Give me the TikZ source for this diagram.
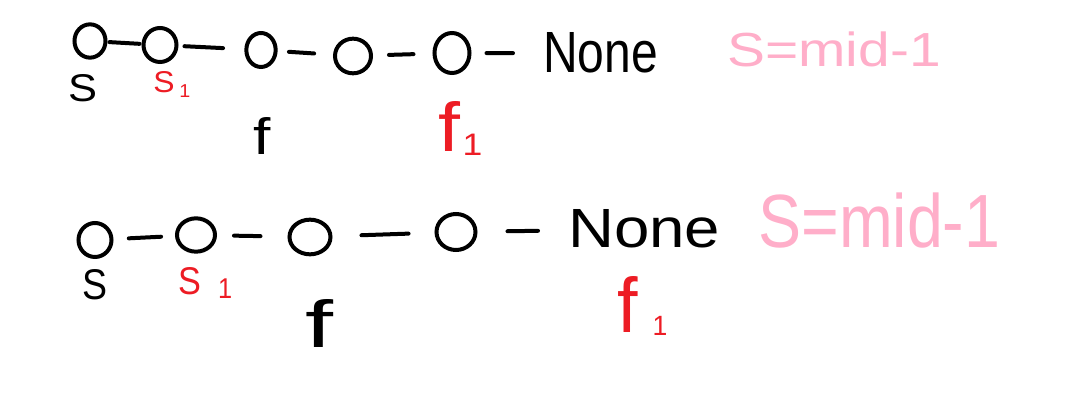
\documentclass[tikz,border=0pt]{standalone}
\usepackage{fontspec}
\setmainfont{Liberation Sans}
\usetikzlibrary{shapes.geometric}
\definecolor{inkred}{RGB}{237,28,36}
\definecolor{inkpink}{RGB}{255,174,201}
\newcommand{\fitxt}[3]{\resizebox{#1}{#2}{#3}}
\begin{document}
\begin{tikzpicture}[x=0.75pt,y=-0.75pt,
  ring/.style={draw, ellipse, line width=3pt, inner sep=0pt},
  link/.style={line width=3pt, line cap=round},
  lbl/.style={inner sep=0pt, anchor=base west}]
\useasboundingbox[fill=white] (0,0) rectangle (1076,420);
% row 1
\node[ring, minimum width=23.25pt, minimum height=25pt] (c1) at (90,41) {};
\node[ring, minimum width=24.75pt, minimum height=25.5pt] (c2) at (160,45) {};
\node[ring, minimum width=22pt, minimum height=25.5pt] (c3) at (261,50) {};
\node[ring, minimum width=27pt, minimum height=26pt] (c4) at (353,56) {};
\node[ring, minimum width=26.25pt, minimum height=30pt] (c5) at (452,53) {};
\node[lbl] (n1) at (543,73) {\fitxt{86pt}{30pt}{None}};
\draw[link, shorten <=1.5pt, shorten >=1.5pt] (c1) -- (c2);
\draw[link, shorten <=4.5pt, shorten >=16pt] (c2) -- (c3);
\draw[link, shorten <=8.5pt, shorten >=14.25pt] (c3) -- (c4);
\draw[link, shorten <=12pt, shorten >=14.25pt] (c4) -- (c5);
\draw[link, shorten <=11.25pt, shorten >=22.5pt] (c5) -- (n1);
\node[lbl] (sa) at (68,102) {\fitxt{21.75pt}{20.25pt}{S}};
\node[lbl, text=inkred] (sb) at (153,93) {\fitxt{27.75pt}{15.75pt}{S\kern0.15em\raisebox{-0.16em}{\scalebox{0.62}{1}}}};
\node[lbl] (fa) at (253,155) {\fitxt{13pt}{27.75pt}{f}};
\node[lbl, text=inkred] (fb) at (438,152) {\fitxt{33pt}{37.5pt}{f\kern0.03em\raisebox{-0.05em}{\scalebox{0.45}{1}}}};
\node[lbl, text=inkpink] (p1) at (727,67) {\fitxt{160pt}{26pt}{S=mid-1}};
% row 2
\node[ring, minimum width=24.75pt, minimum height=25.5pt] (d1) at (95,240) {};
\node[ring, minimum width=28.5pt, minimum height=25pt] (d2) at (196,235) {};
\node[ring, minimum width=30.75pt, minimum height=26pt] (d3) at (310,237) {};
\node[ring, minimum width=29.25pt, minimum height=27pt] (d4) at (456,232) {};
\node[lbl] (n2) at (568,248) {\fitxt{114pt}{28.5pt}{None}};
\draw[link, shorten <=11.5pt, shorten >=10.5pt] (d1) -- (d2);
\draw[link, shorten <=12.75pt, shorten >=20.25pt] (d2) -- (d3);
\draw[link, shorten <=21.75pt, shorten >=19.5pt] (d3) -- (d4);
\draw[link, shorten <=22.5pt, shorten >=22.5pt] (d4) -- (n2);
\node[lbl] (sc) at (82,300) {\fitxt{18.75pt}{22.5pt}{S}};
\node[lbl, text=inkred] (sd) at (178,295) {\fitxt{40.5pt}{20.25pt}{S\kern0.5em\raisebox{-0.08em}{\scalebox{0.74}{1}}}};
\node[lbl] (fc) at (305,348) {\fitxt{21pt}{36pt}{f}};
\node[lbl, text=inkred] (fd) at (617,333) {\fitxt{37.5pt}{42pt}{f\kern0.2em\raisebox{-0.03em}{\scalebox{0.36}{1}}}};
\node[lbl, text=inkpink] (p2) at (758,248) {\fitxt{181.5pt}{41pt}{S=mid-1}};
\end{tikzpicture}
\end{document}
